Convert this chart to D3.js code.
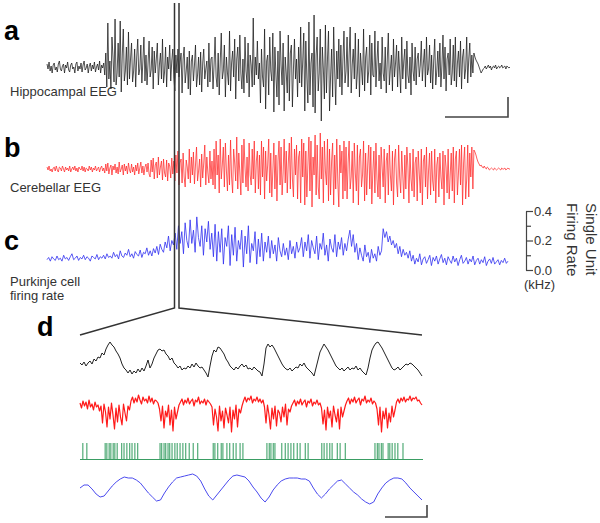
<!DOCTYPE html>
<html>
<head>
<meta charset="utf-8">
<script src="https://cdn.jsdelivr.net/npm/d3@7"></script>
<style>
  body { margin: 0; background: #fff; }
  svg { display: block; }
  text { font-family: "Liberation Sans", Arial, sans-serif; }
</style>
</head>
<body>
<svg id="fig" width="600" height="523"></svg>
<script>
// a: hippocampal EEG, samples (units ~ px above baseline)
const hippoEEG = [
  3, -2, 5, -4, 1, -6, 2, 4, -3, 0, -5, 3, 6, -2, -4, 1, 3, -6, 2, -1, 5, -3, -5, 2, 4, -2, 0, -6, 3, 5, -4, 1, -2, 4, -5, 2, 6, -3, -1, 3, -6, 1, 4, -4, 2, -2, 5, -5, 0, 3, -3, 6, -6, 2, -1, 4,
  -8, 14, -20, 44, -12, 6, -22, 30, 10, -15, 48, -18, -6, 24, -10, 46, -25, 12, 38, -14, -4, 20, -18, 35,
  -12, 8, 24, -15, -4, 18, -20, 10, 28, -8, -2, 22, -16, 6, 30, -14, 12, -18, 4, 26, -10, -3, 20, -22, 16, -6, 8, 24, -18, 2, 14, -12, 28, -16, -5, 20, -20, 10, -2, 22, -14, 6, 18, -10,
  -24, 12, -6, 18, -10, 4, 14, -26, 8, 20, -16, -4, 10, -22, 16, -28, 6, 12, -14, 2, 22, -20, -8, 10, -18, 15, -25, 4, 18, -12, -2, 6, -20, 24, -15, 8, 10, -22, 2,
  30, -10, -20, 14, -28, 6, 34, -12, -4, 22, -30, 10, -6, -18, 36, -24, 4, 16, -10, 28, -32, 8, 20, -14, 32, -6, -22, 8, -26, 30, -4, -16, 24, -30, 12, 2, -20, 49, -18, 10, -8, 26, -12, 4,
  -36, 18, -10, -20, 38, -42, 6, 12, -28, 30, -4, -14, 34, -45, 20, -8, -30, 16, -38, 36, 2, -18, 24, -44, 10, -6, -26, 32, -34, 14, 22, -40, -2, 28, -12, 8, -30, 20, -16,
  40, -20, 6, 34, -44, 26, -10, -36, 45, -28, 4, 14, -40, 52, -46, 12, 30, -24, -6, 38, -54, 20, -2, -32, 42, -26, 8, 36, -44, -10, 18, -30, 40, -4, -38, 16, -12, 28, -20,
  22, -28, 8, 36, -16, -4, 30, -20, 12, 40, -26, 2, 18, -12, 34, -22, -6, 28, -30, 14, -2, -18, 38, -24, 10, 20, -16, -4, 32, -28, 24, -8, -10, 36, -20, 6, 26, -14, 4,
  -22, 30, -6, -14, 20, -26, 8, 34, -18, -2, 12, -24, 28, -10, 4, 22, -20, 16, -4, -26, 30, -12, 6, 18, -22, 26, -8, -16, 10, -28, 24, -4, -14, 20, -18, 8, 14, -10, 2,
  26, -14, 4, 18, -20, 30, -8, -2, 22, -16, 12, -22, 6, 28, -18, -4, 16, -10, 24, -20, 2, 32, -12, 20, -24, 8, 14, -8, 28, -18, -6, 22, -14, 30, -20, 4, 16, -10, 26, -22, 10, 18, -12, -2, 30, -16, 8, 24, -10, 12, -6,
  14, 10, 7, 5, 3, 0, -3, -6, -4, -2, -1, 1, -2, 0, 2, -1, 1, -3, 0, 1, -1, 2, -2, 0, 1, -1, 0, 2, -1, 0, 1, -2, 1, 0, -1, 0
];

// b: cerebellar EEG
const cerebEEG = [
  2, -1, 3, -2, 0, -3, 1, 2, -2, 3, -1, -3, 2, 1, -2, 3, 0, -3, 2, -1, 1, -2, 3, -3, 0, 2, -1, 3, -2, 1, -3, 2, 0, -1, 3, -2, 2, -3, 1, 0, -2, 3, -1, 2, -3, 1, -1, 3, -2, 0, 2, -3, 1, 3, -2, 1,
  -4, 5, -2, 6, -5, 1, 4, -6, 3, -1, 5, -4, 2, -5, 7, -3, 0, 4, -6, 5, -2, 3, -5, 6, -1, -4, 5, -3, 2, -6, 4, -2, 6, -5, 1, 7, -4, 3, -6, 2, 5, -3, 6, -5,
  -8, 9, -3, 11, -10, 4, 7, -9, 12, -6, 2, 8, -11, 10, -4, -8, 9, -12, 6, 3, -9, 11, -5, 8,
  -12, 14, -4, 18, -16, 6, 10, -14, 16, -8, -18, 9, 2, -10, 20, -14, 12, -6, 17, -15, 4, 22, -12, -2, 10, -18, 15, -9, 6, 24, -16, 12, -4, -14, 18, -10, 8, -16, 20,
  -20, 28, -6, 14, -24, 30, -10, 4, 22, -18, 26, -2, -22, 14, -16, 29, -8, -24, 20, 6, -12, 32, -20, 16, -4, -26, 24, -14, 30, 2, -18, 12, -22, 26, -6, -16, 20, -10, 28, -24, 8, 18, -20, 14,
  -26, 28, -8, 22, -30, 18, -12, 4, 30, -24, 16, -28, -2, 26, -20, 14, -32, 8, 28, -16, 22, -26, -4, 30, -14, 18, -24, 6, 26, -20, 32, -10, -28, 20, -6, 24, -30, 12, 18,
  -34, 30, -8, 26, -36, 18, -28, 4, 32, -22, 28, -38, 12, -6, 34, -26, 24, -18, -30, 36, -10, 22, -34, 28, -2, -16, 30, -32, 20, -26, 8, 26, -36, 14, -20, 30, -12, -38, 24, -4, 18, -30, 28, -22,
  22, -30, 6, 28, -20, -8, 18, -34, 26, -4, -22, 24, -36, 12, 20, -18, -6, 28, -32, 16, -26, 4, 24, -20, 22, -35, -2, 18, -24, 26, -10, -28, 14, -30, 22, 2, -18, 20, -34, 8, 16, -26, 24, -6, -22, 18, -36, 10, 20, -14, -28, 24, -8,
  -24, 18, -6, -30, 14, -20, 22, 2, -34, 16, -10, -22, 20, -28, 6, 12, -32, 18, -4, -24, 20, -36, 8, 14, -18, 22, -30, -2, 16, -26, 18, -12, -22, 20, -34, 4, 12, -28, 16, -8, -20, 18, -36, 14, 2, -24, 20, -30, -6, 16, -22, 22, -34, 10, 18, -26, -4, 20, -16, 24, -36, 6, 22, -30, -10, 24, -28, 16, -8, 22, -20,
  19, 17, 14, 10, 7, 5, 3, 4, 2, 1, 3, 1, 0, 2, 1, -1, 0, 1, 0, -1, 1, 0, -1, 0, 1, 0, -1, 1, 0, 0, 1, -1, 0, 1, 0, 0
];

// c: Purkinje cell firing rate (Hz)
const purkinjeRate = [
  70, 85, 60, 90, 75, 65, 95, 70, 80, 60, 100, 75, 85, 65, 90, 110, 70, 80, 95, 65, 85, 75, 100, 70, 90, 80, 60, 95, 85, 75, 105, 70, 90, 80, 100, 75, 110, 85,
  95, 80, 120, 90, 105, 75, 130, 95, 85, 115, 100, 140, 90, 110, 80, 125, 105, 95, 135, 85, 120, 110, 150, 100, 130, 95, 145, 115, 160, 105, 175, 140, 120, 190, 150, 230, 130, 200, 170,
  250, 140, 300, 180, 260, 110, 320, 200, 150, 340, 180, 270, 120, 360, 220, 160, 300, 100, 280, 190, 330, 140, 250, 90,
  310, 60, 260, 120, 280, 40, 220, 160, 300, 30, 240, 100, 290, 60, 200, 140, 270, 20, 230, 110, 300, 50, 180, 130, 260, 40, 210, 90, 250, 60, 190, 120, 230,
  80, 200, 110, 170, 60, 220, 130, 90, 180, 100, 150, 70, 200, 110, 160, 80, 190, 120,
  150, 220, 90, 190, 130, 240, 80, 200, 150, 110, 230, 70, 180, 140, 250, 100, 170, 60, 210, 150, 120, 240, 90, 190, 140, 220, 100, 180, 130, 210,
  270, 160, 240, 120,
  180, 70, 150, 100, 60, 170, 90, 120, 50, 140, 80, 110, 60, 160, 100, 130,
  280, 220, 260, 190, 230, 170,
  200, 150, 180, 110, 160, 90, 140, 100, 120, 80, 130,
  60, 100, 40, 80, 55, 110, 35, 75, 90, 45, 70, 100, 30, 85, 60, 95, 40, 75, 105, 50, 80, 35, 90, 65, 45, 95, 55, 80, 30, 70, 100, 45, 60, 85, 40, 75, 55, 95, 35, 65, 80, 40, 70, 50, 90, 30, 60, 75, 45, 85, 40, 55, 70, 35, 65, 50, 80, 45, 60
];
const rateTicks = [0, 0.2, 0.4];
const rateMinorTicks = [0.1, 0.3];

// d: expanded segment
const hippoZoom = [
  15, 13, 16, 12, 15, 17, 14, 19, 17, 21, 20, 25, 23, 29, 33, 36, 33, 31, 27, 24, 20, 14, 10, 8, 5, 8, 4, 7, 5, 9, 6, 10, 7, 12, 18, 10, 14, 20, 24, 28,
  29, 27, 28, 24, 22, 18, 20, 15, 13, 10, 12, 8, 10, 9, 12, 10, 14, 11, 15, 12, 10, 11, 8, 5, 1, 12, 22, 28, 26, 31, 30, 27, 24, 19, 16, 12, 10, 8, 11, 9,
  12, 14, 11, 13, 9, 10, 8, 11, 9, 7, 6, 2, 14, 30, 34, 31, 33, 30, 26, 22, 18, 14, 11, 9, 8, 10, 7, 9, 11, 10, 14, 12, 15, 11, 9, 7, 5, 2, 10, 18,
  26, 30, 34, 31, 28, 24, 20, 16, 12, 10, 8, 10, 7, 9, 11, 8, 10, 9, 12, 8, 10, 7, 5, 3, 10, 20, 28, 32, 35, 36, 33, 30, 26, 22, 18, 14, 10, 8, 9, 11,
  8, 10, 12, 14, 13, 15, 14, 12, 10, 8, 5, 2
];
const cerebZoom = [
  34, 29, 36, 31, 35, 28, 37, 30, 33, 27, 35, 30, 32, 26,
  31, 14, 33, 25, 10, 30, 18, 34, 22, 8, 29, 15, 32, 20, 12, 33, 24, 16, 31, 27,
  36, 40, 34, 39, 35, 42, 37, 33, 40, 36, 38, 34, 41, 35, 39, 33, 37, 36, 34,
  28, 16, 31, 9, 26, 20, 32, 12, 27, 6, 30, 18, 25, 32,
  35, 38, 32, 37, 34, 39, 33, 36, 38, 31, 37, 35, 40, 33, 36, 34, 38, 32, 37, 35, 33,
  30, 12, 28, 20, 6, 31, 16, 26, 9, 29, 22, 14, 30, 5, 27, 18, 32, 10, 28, 24, 31,
  36, 40, 35, 39, 37, 41, 34, 38, 36, 40, 35, 38, 34, 37,
  30, 14, 32, 22, 8, 29, 18, 31, 11, 27, 24, 15, 30, 20, 33, 12, 28, 25, 31,
  34, 37, 31, 36, 33, 38, 32, 35, 37, 30, 36, 34, 38, 31, 35, 33, 37, 32, 34,
  29, 13, 27, 7, 30, 19, 26, 10, 31, 22, 15, 28, 8, 30, 20, 26, 32,
  36, 39, 33, 38, 35, 40, 34, 37, 39, 32, 38, 36, 41, 34, 37, 35, 39, 33, 36, 34,
  28, 12, 30, 5, 26, 18, 29, 9, 24, 15, 31, 20, 27,
  35, 38, 34, 39, 36, 40, 35, 38, 37, 41, 36, 39, 38, 40, 36, 37, 34, 32
];
// spike times (s) in the expanded segment
const spikeTimes = [
  0.05, 0.12, 0.44, 0.47, 0.51, 0.54, 0.58, 0.61, 0.65, 0.73, 0.77, 0.82, 0.87, 0.91, 0.96, 1.01,
  1.40, 1.43, 1.47, 1.50, 1.54, 1.57, 1.61, 1.66, 1.70, 1.75, 1.80, 1.85, 1.91, 1.98, 2.06,
  2.33, 2.36, 2.41, 2.47, 2.50, 2.57, 2.62, 2.68, 2.73, 2.80, 2.85,
  3.27, 3.31, 3.34, 3.38, 3.41, 3.53, 3.59, 3.64, 3.69, 3.74, 3.80, 3.85, 3.94, 3.99,
  4.23, 4.27, 4.32, 4.37, 4.41, 4.50, 4.55, 4.64,
  5.16, 5.20, 5.23, 5.27, 5.30, 5.39, 5.42, 5.46, 5.51, 5.56, 5.65
];
const rateZoom = [
  17, 20, 20, 16, 11, 8, 9, 14, 19, 23, 26, 28, 27, 27, 25, 22, 17, 12, 8, 4,
  5, 12, 18, 23, 27, 28, 29, 30, 31, 29, 24, 16, 9, 5, 10, 15, 20, 25, 29, 30,
  29, 28, 24, 18, 13, 7, 3, 8, 15, 20, 24, 26, 27, 27, 27, 26, 26, 24, 17, 11,
  7, 11, 16, 20, 24, 25, 21, 17, 13, 10, 6, 3, 1, 3, 11, 17, 22, 25, 27, 27,
  26, 22, 17, 13, 9, 5
];

const svg = d3.select('#fig');

function drawTrace (data, x0, x1, yScale, color, width) {
  let xs = d3.scaleLinear().domain([0, data.length - 1]).range([x0, x1]);
  let line = d3.line().x((d, i) => xs(i)).y(d => yScale(d));
  svg.append('path')
    .attr('d', line(data))
    .attr('fill', 'none')
    .attr('stroke', color)
    .attr('stroke-width', width)
    .attr('stroke-linejoin', 'round');
}

function drawLabel (txt, x, y, size, weight) {
  svg.append('text').attr('x', x).attr('y', y)
    .attr('font-size', size).attr('font-weight', weight || 'normal')
    .attr('fill', weight === 'bold' ? '#000' : '#333')
    .text(txt);
}

// panel letters and trace names
drawLabel('a', 4, 40, 27, 'bold');
drawLabel('b', 4, 157, 27, 'bold');
drawLabel('c', 4, 250, 27, 'bold');
drawLabel('d', 37, 336, 27, 'bold');
drawLabel('Hippocampal EEG', 10, 96, 13);
drawLabel('Cerebellar EEG', 10, 192, 13);
drawLabel('Purkinje cell', 10, 286, 13);
drawLabel('firing rate', 10, 300, 13);

// traces a-c
let yA = d3.scaleLinear().domain([-60, 60]).range([127, 7]);
let yB = d3.scaleLinear().domain([-40, 40]).range([209, 129]);
let yC = d3.scaleLinear().domain([0, 0.4]).range([270, 211]);
drawTrace(hippoEEG, 47, 510, yA, '#1a1a1a', 0.75);
drawTrace(cerebEEG, 47, 510, yB, '#ff2a2a', 0.75);
drawTrace(purkinjeRate.map(v => v / 1000), 47, 508, yC, '#3030f0', 0.8);

// firing-rate axis
let axisG = svg.append('g').attr('transform', 'translate(526,0)');
axisG.call(d3.axisRight(yC).tickValues(rateTicks).tickSize(7).tickSizeOuter(0).tickPadding(1).tickFormat(d3.format('.1f')));
axisG.call(g => g.append('g').call(d3.axisRight(yC).tickValues(rateMinorTicks).tickSize(5).tickFormat('')).select('.domain').remove());
axisG.selectAll('path, line').attr('stroke', '#444').attr('stroke-width', 1.2);
axisG.selectAll('text').attr('font-size', 13).attr('fill', '#333').attr('font-family', '"Liberation Sans", Arial, sans-serif');
drawLabel('(kHz)', 524, 289, 13);
svg.append('text').attr('transform', 'translate(586,203) rotate(90)')
  .attr('font-size', 15).attr('fill', '#333').text('Single Unit');
svg.append('text').attr('transform', 'translate(567,203) rotate(90)')
  .attr('font-size', 15).attr('fill', '#333').text('Firing Rate');

// expansion marker
let marker = svg.append('g').attr('stroke', '#333').attr('stroke-width', 1.5).attr('fill', 'none');
marker.append('path').attr('d', 'M174.5,3 L174.5,308 L80,335');
marker.append('path').attr('d', 'M179,3 L179,308 L422,335');

// panel d
let tD = d3.scaleLinear().domain([0, 6]).range([80, 423]);
let yD1 = d3.scaleLinear().domain([0, 40]).range([378, 338]);
let yD2 = d3.scaleLinear().domain([0, 45]).range([437, 392]);
let yD4 = d3.scaleLinear().domain([0, 30]).range([505, 475]);
drawTrace(hippoZoom, 80, 422, yD1, '#222', 1);
drawTrace(cerebZoom, 80, 422, yD2, '#ff1a1a', 1.2);
svg.append('line').attr('x1', tD(0)).attr('x2', tD(6)).attr('y1', 459.5).attr('y2', 459.5)
  .attr('stroke', '#3a9d63').attr('stroke-width', 1.2);
svg.append('g').selectAll('line').data(spikeTimes).enter().append('line')
  .attr('x1', d => tD(d)).attr('x2', d => tD(d))
  .attr('y1', 443).attr('y2', 459)
  .attr('stroke', '#2f9a5c').attr('stroke-width', 1);
drawTrace(rateZoom, 80, 422, yD4, '#4b4bef', 1);

// scale bars
let bars = svg.append('g').attr('stroke', '#444').attr('stroke-width', 1.6).attr('fill', 'none');
bars.append('path').attr('d', 'M445,117 L508,117 L508,97');
bars.append('path').attr('d', 'M385,517 L427,517 L427,505');
</script>
</body>
</html>
